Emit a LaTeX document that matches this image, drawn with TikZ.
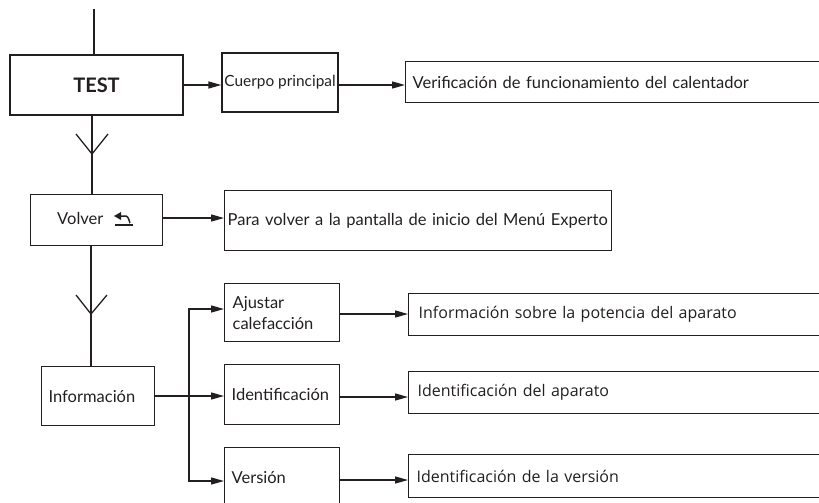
\documentclass[tikz,border=0pt]{standalone}
\usepackage{fontspec}
\setmainfont{Lato}
\newfontfamily\myriad{Open Sans}
\usetikzlibrary{arrows.meta,calc}
\definecolor{ink}{HTML}{231F20}
\tikzset{
  box/.style={draw=ink, line width=1.3pt, rectangle, inner ysep=0pt, text=ink, font=\fontsize{16.5}{20}\selectfont},
  lbox/.style={box, align=left, inner xsep=#1},
  mbox/.style={font=\myriad\fontsize{16}{19}\selectfont},
  link/.style={draw=ink, line width=1.3pt},
  arrow/.style={link, -{Triangle[length=13pt,width=7pt]}},
}
\begin{document}
\begin{tikzpicture}[x=1pt,y=-1pt]
\useasboundingbox (0,0) rectangle (819,503);
\clip (0,0) rectangle (819,503);
% boxes
\node[box, minimum width=173, minimum height=60, font=\fontsize{20}{24}\selectfont\bfseries] (test) at (96.5,85) {TEST};
\node[box, minimum width=116, minimum height=59, inner xsep=1pt, font=\fontsize{15.4}{18}\selectfont] (cuerpo) at (280,82.5) {Cuerpo principal};
\node[lbox=7pt, text width=416, minimum height=41, anchor=north west] (verif) at (405,61) {Verificación de funcionamiento del calentador};
\node[box, minimum width=132, minimum height=51, anchor=north west] (volver) at (30,194) {};
\node[text=ink, font=\fontsize{16.5}{20}\selectfont, inner sep=0pt, anchor=west] (volvertxt) at (57,218) {Volver};
\node[lbox=3pt, text width=381, minimum height=60, anchor=north west] (para) at (224,190) {Para volver a la pantalla de inicio del Menú Experto};
\node[lbox=7pt, text width=99, minimum height=59, anchor=north west] (info) at (41,366) {Información};
\node[lbox=8pt, text width=99, minimum height=58, anchor=north west, font=\fontsize{16.5}{21}\selectfont] (ajust) at (224,283) {Ajustar\\calefacción};
\node[lbox=7pt, text width=101, minimum height=60, anchor=north west] (ident) at (224,364) {Identificación};
\node[lbox=7pt, text width=101, minimum height=60, anchor=north west] (vers) at (224,447) {Versión};
\node[lbox=10pt, text width=407, minimum height=42, anchor=north west, mbox] (potencia) at (408,293) {Información sobre la potencia del aparato};
\node[lbox=9pt, text width=409, minimum height=42, anchor=north west, mbox] (aparato) at (408,371) {Identificación del aparato};
\node[lbox=8pt, text width=411, minimum height=43, anchor=north west, mbox] (version) at (408,454) {Identificación de la versión};
% return symbol next to Volver
\coordinate (sym) at (115,225);
\draw[ink, line width=1.5pt] (sym) -- ++(18,0);
\draw[ink, line width=1.5pt] ($(sym)+(15,-3)$) to[out=-90,in=0] ($(sym)+(11,-9)$) -- ($(sym)+(4,-9)$);
\fill[ink] ($(sym)+(-1,-9)$) -- ($(sym)+(6,-13)$) -- ($(sym)+(6,-5)$) -- cycle;
% connectors
\coordinate (start) at (94,9);
\draw[link] (start) -- (start |- test.north);
\draw[arrow] (test.east) -- (test.east -| cuerpo.west);
\draw[arrow] (test.east -| cuerpo.east) -- (test.east -| verif.west);
% down from TEST with chevron
\coordinate (d1) at (92,115);
\draw[link] (d1) -- (d1 |- volver.north);
\coordinate (c1) at (92,154);
\draw[link] ($(c1)+(-16,-20)$) -- (c1) -- ($(c1)+(16,-20)$);
\draw[arrow] (volver.east |- 0,218) -- (para.west |- 0,218);
% down from Volver with chevron
\coordinate (d2) at (91,245);
\draw[link] (d2) -- (d2 |- info.north);
\coordinate (c2) at (91,314);
\draw[link] ($(c2)+(-15,-19)$) -- (c2) -- ($(c2)+(16,-19)$);
% branch
\coordinate (br) at (189,396);
\draw[arrow] (info.east |- br) -- (ident.west |- br);
\draw[arrow] (br) -- (br |- 0,309) -- (ajust.west |- 0,309);
\draw[arrow] (br) -- (br |- 0,481) -- (vers.west |- 0,481);
\draw[arrow] (ajust.east |- 0,314) -- (potencia.west |- 0,314);
\draw[arrow] (ident.east |- 0,397) -- (aparato.west |- 0,397);
\draw[arrow] (vers.east |- 0,480) -- (version.west |- 0,480);
\end{tikzpicture}
\end{document}
